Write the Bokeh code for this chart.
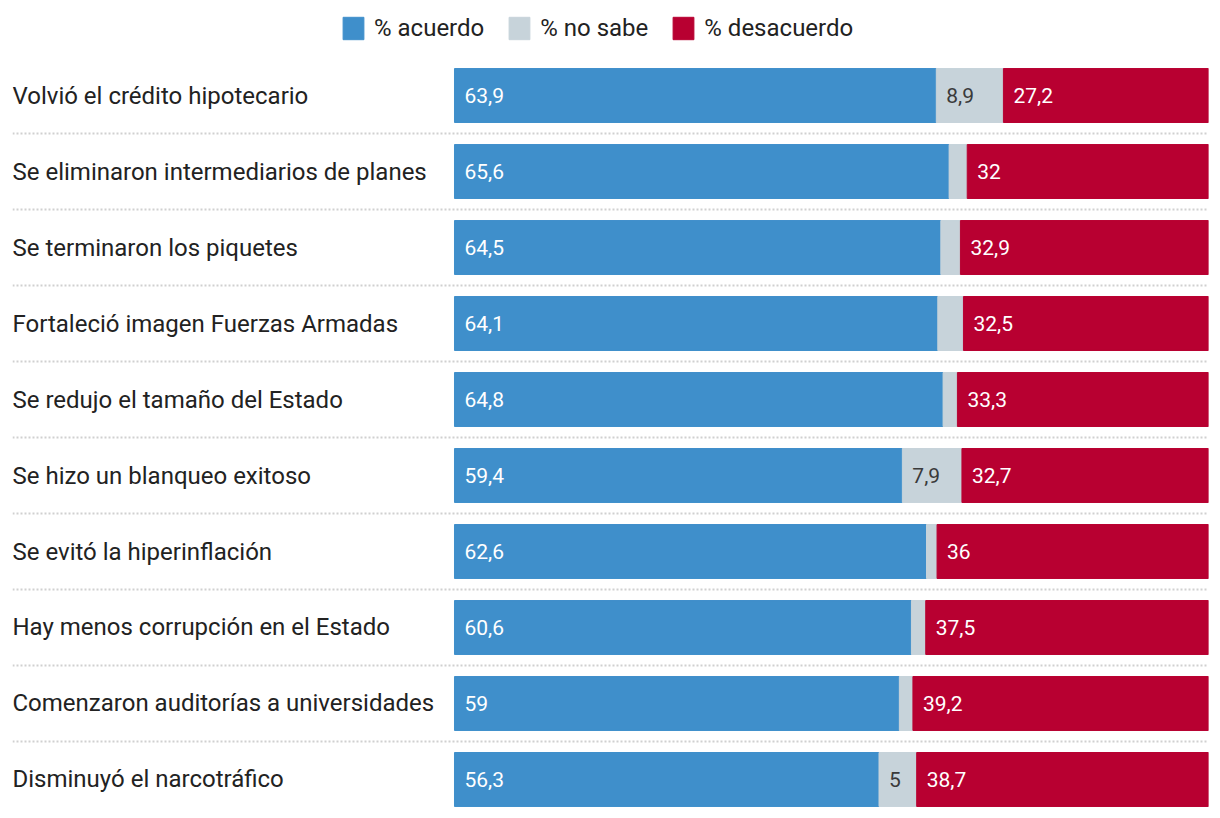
from bokeh.plotting import figure
from bokeh.models import ColumnDataSource, Range1d
from bokeh.core.properties import value
from bokeh.embed import file_html
from bokeh.resources import INLINE

categories = [
    "Volvió el crédito hipotecario",
    "Se eliminaron intermediarios de planes",
    "Se terminaron los piquetes",
    "Fortaleció imagen Fuerzas Armadas",
    "Se redujo el tamaño del Estado",
    "Se hizo un blanqueo exitoso",
    "Se evitó la hiperinflación",
    "Hay menos corrupción en el Estado",
    "Comenzaron auditorías a universidades",
    "Disminuyó el narcotráfico",
]
acuerdo = [63.9, 65.6, 64.5, 64.1, 64.8, 59.4, 62.6, 60.6, 59.0, 56.3]
no_sabe = [8.9, 2.4, 2.6, 3.4, 1.9, 7.9, 1.4, 1.9, 1.8, 5.0]
desacuerdo = [27.2, 32.0, 32.9, 32.5, 33.3, 32.7, 36.0, 37.5, 39.2, 38.7]
series_names = ["% acuerdo", "% no sabe", "% desacuerdo"]
colors = ["#3f8fcb", "#c7d3da", "#b80031"]

FONT_LABEL = "Roboto"
FONT_VAL = "Roboto"

ys = list(range(len(categories)))

def fmt(v):
    return f"{v:g}".replace(".", ",")

src = ColumnDataSource(dict(y=ys, cat=categories, acuerdo=acuerdo,
                            nosabe=no_sabe, desacuerdo=desacuerdo))

p = figure(width=1212, height=810, output_backend="svg", toolbar_location=None,
           x_range=Range1d(-58.62, 100), y_range=Range1d(9.408, -1.145),
           min_border_left=12, min_border_right=4, min_border_top=8, min_border_bottom=0)
p.axis.visible = False
p.grid.visible = False
p.outline_line_color = None
p.background_fill_color = "white"

# separators
sep_y = [i + 0.5 for i in ys[:-1]]
p.segment(x0=[p.x_range.start] * len(sep_y), x1=[100] * len(sep_y), y0=sep_y, y1=sep_y,
          line_color="#d0d0d0", line_width=2, line_dash="2 2")

p.hbar_stack(["acuerdo", "nosabe", "desacuerdo"], y="y", height=0.71, color=colors,
             source=src, legend_label=series_names)

# category labels
p.text(x=[p.x_range.start] * len(categories), y=ys, text=categories,
       text_font=value(FONT_LABEL), text_font_size="24px", text_color="#222222",
       text_align="left", text_baseline="middle")

# value labels
lx, ly, lt, lc = [], [], [], []
for i in ys:
    a, n, d = acuerdo[i], no_sabe[i], desacuerdo[i]
    lx.append(0); ly.append(i); lt.append(fmt(a)); lc.append("white")
    if n >= 5:
        lx.append(a); ly.append(i); lt.append(fmt(n)); lc.append("#3a3a3a")
    lx.append(a + n); ly.append(i); lt.append(fmt(d)); lc.append("white")
lsrc = ColumnDataSource(dict(x=lx, y=ly, t=lt, c=lc))
p.text(x="x", y="y", text="t", text_color="c", source=lsrc, x_offset=10,
       text_font=value(FONT_VAL), text_font_size="21px",
       text_align="left", text_baseline="middle")

lg = p.legend[0]
lg.orientation = "horizontal"
lg.location = (328, 768)
lg.glyph_width = 26
lg.glyph_height = 28
lg.label_standoff = 8
lg.spacing = 22
lg.padding = 0
lg.margin = 0
lg.border_line_color = None
lg.background_fill_alpha = 0
lg.label_text_font = FONT_LABEL
lg.label_text_font_size = "24px"
lg.label_text_color = "#222222"
lg.label_height = 28

open("out.html", "w").write(file_html(p, INLINE))
